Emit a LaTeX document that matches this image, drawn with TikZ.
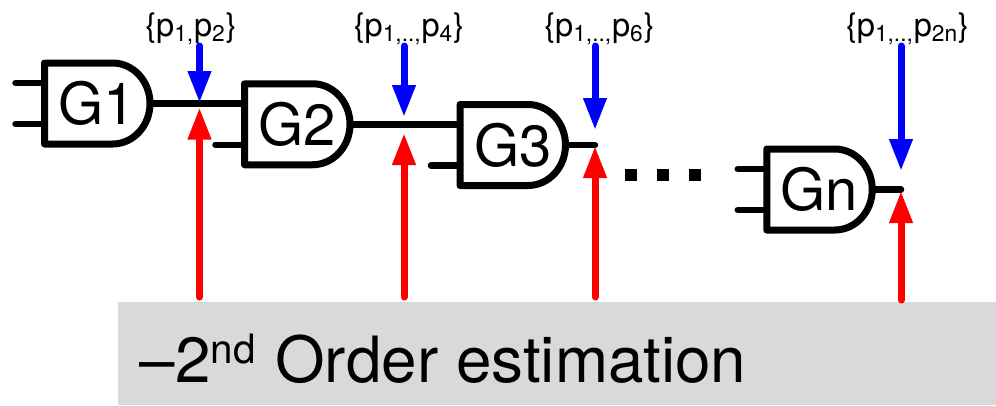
\documentclass[tikz,border=0pt]{standalone}
\usepackage{fontspec}
\setmainfont{TeX Gyre Heros}
\usepackage{tikz}
\usetikzlibrary{arrows.meta, positioning, calc}
\definecolor{blockgray}{HTML}{D9D9D9}
\definecolor{probeblue}{HTML}{0000FF}
\definecolor{probered}{HTML}{FF0000}

\begin{document}
\begin{tikzpicture}[
  gate/.style={minimum width=2.11cm, minimum height=1.62cm, inner sep=0pt,
    outer sep=0pt, font=\fontsize{33}{33}\selectfont},
  wire/.style={line width=0.13cm, line cap=round, line join=round},
  probe/.style={line width=0.14cm, line cap=round,
    -{Triangle[length=0.64cm, width=0.44cm]}},
  setlabel/.style={anchor=base, inner sep=0pt, font=\fontsize{18.5}{18.5}\selectfont},
  dotbox/.style={fill, minimum size=0.24cm, inner sep=0pt}
]
  \useasboundingbox (0,0) rectangle (19.92,-8.1);

  % Estimation block
  \node[fill=blockgray, anchor=north west, minimum width=17.56cm,
    minimum height=2.06cm, inner sep=0pt] (block) at (2.36,-6.04) {};
  \node[anchor=base west, inner sep=0pt, font=\fontsize{36.3}{36.3}\selectfont]
    (blocktext) at (2.79,-7.64)
    {–2\raisebox{10.8pt}{\fontsize{23}{23}\selectfont nd}\hspace{1pt} Order estimation};

  % Gates
  \foreach \name/\x/\y in {G1/1.945/-2.07, G2/5.945/-2.485, G3/10.255/-2.9, Gn/16.39/-3.79} {
    \node[gate] (\name) at (\x,\y) {\name};
    \draw[wire, line width=0.14cm] (\name.north west) -- ++(1.36,0)
      arc[start angle=90, end angle=-90, x radius=0.75cm, y radius=0.81cm]
      -- (\name.south west) -- cycle;
    \coordinate (\name-top) at ($(\name.west)+(0,0.41)$);
    \coordinate (\name-bot) at ($(\name.west)+(0,-0.41)$);
  }

  % Free inputs
  \foreach \pin in {G1-top, G1-bot, G2-bot, G3-bot, Gn-top, Gn-bot} {
    \draw[wire] (\pin) -- ++(-0.58,0);
  }

  % Outputs
  \coordinate (out3) at (11.9,-2.9);
  \coordinate (outn) at (18.02,-3.79);
  \draw[wire] (G1.east) -- (G1.east -| G2.west);
  \draw[wire] (G2.east) -- (G2.east -| G3.west);
  \draw[wire] (G3.east) -- (out3);
  \draw[wire] (Gn.east) -- (outn);

  % Dots
  \foreach \i/\x in {1/12.62, 2/13.26, 3/13.89} {
    \node[dotbox] (dot\i) at (\x,-3.5) {};
  }

  % Set labels
  \node[setlabel] (set1) at (3.82,-0.72) {\{p\textsubscript{1,}p\textsubscript{2}\}};
  \node[setlabel] (set2) at (8.18,-0.72) {\{p\textsubscript{1,..,}p\textsubscript{4}\}};
  \node[setlabel] (set3) at (11.99,-0.72) {\{p\textsubscript{1,..,}p\textsubscript{6}\}};
  \node[setlabel] (set4) at (18.15,-0.72) {\{p\textsubscript{1,..,}p\textsubscript{2n}\}};

  % Probes
  \foreach \i/\x/\btip/\rtip/\rend in {1/3.99/-2.06/-2.15/-5.94, 2/8.08/-2.34/-2.66/-5.94,
      3/11.9/-2.6/-2.92/-5.94, 4/18.02/-3.42/-3.82/-6} {
    \coordinate (bs\i) at (\x,-0.92);
    \coordinate (bt\i) at (\x,\btip);
    \coordinate (rs\i) at (\x,\rend);
    \coordinate (rt\i) at (\x,\rtip);
    \draw[probe, probeblue] (bs\i) -- (bt\i);
    \draw[probe, probered] (rs\i) -- (rt\i);
  }
\end{tikzpicture}
\end{document}
